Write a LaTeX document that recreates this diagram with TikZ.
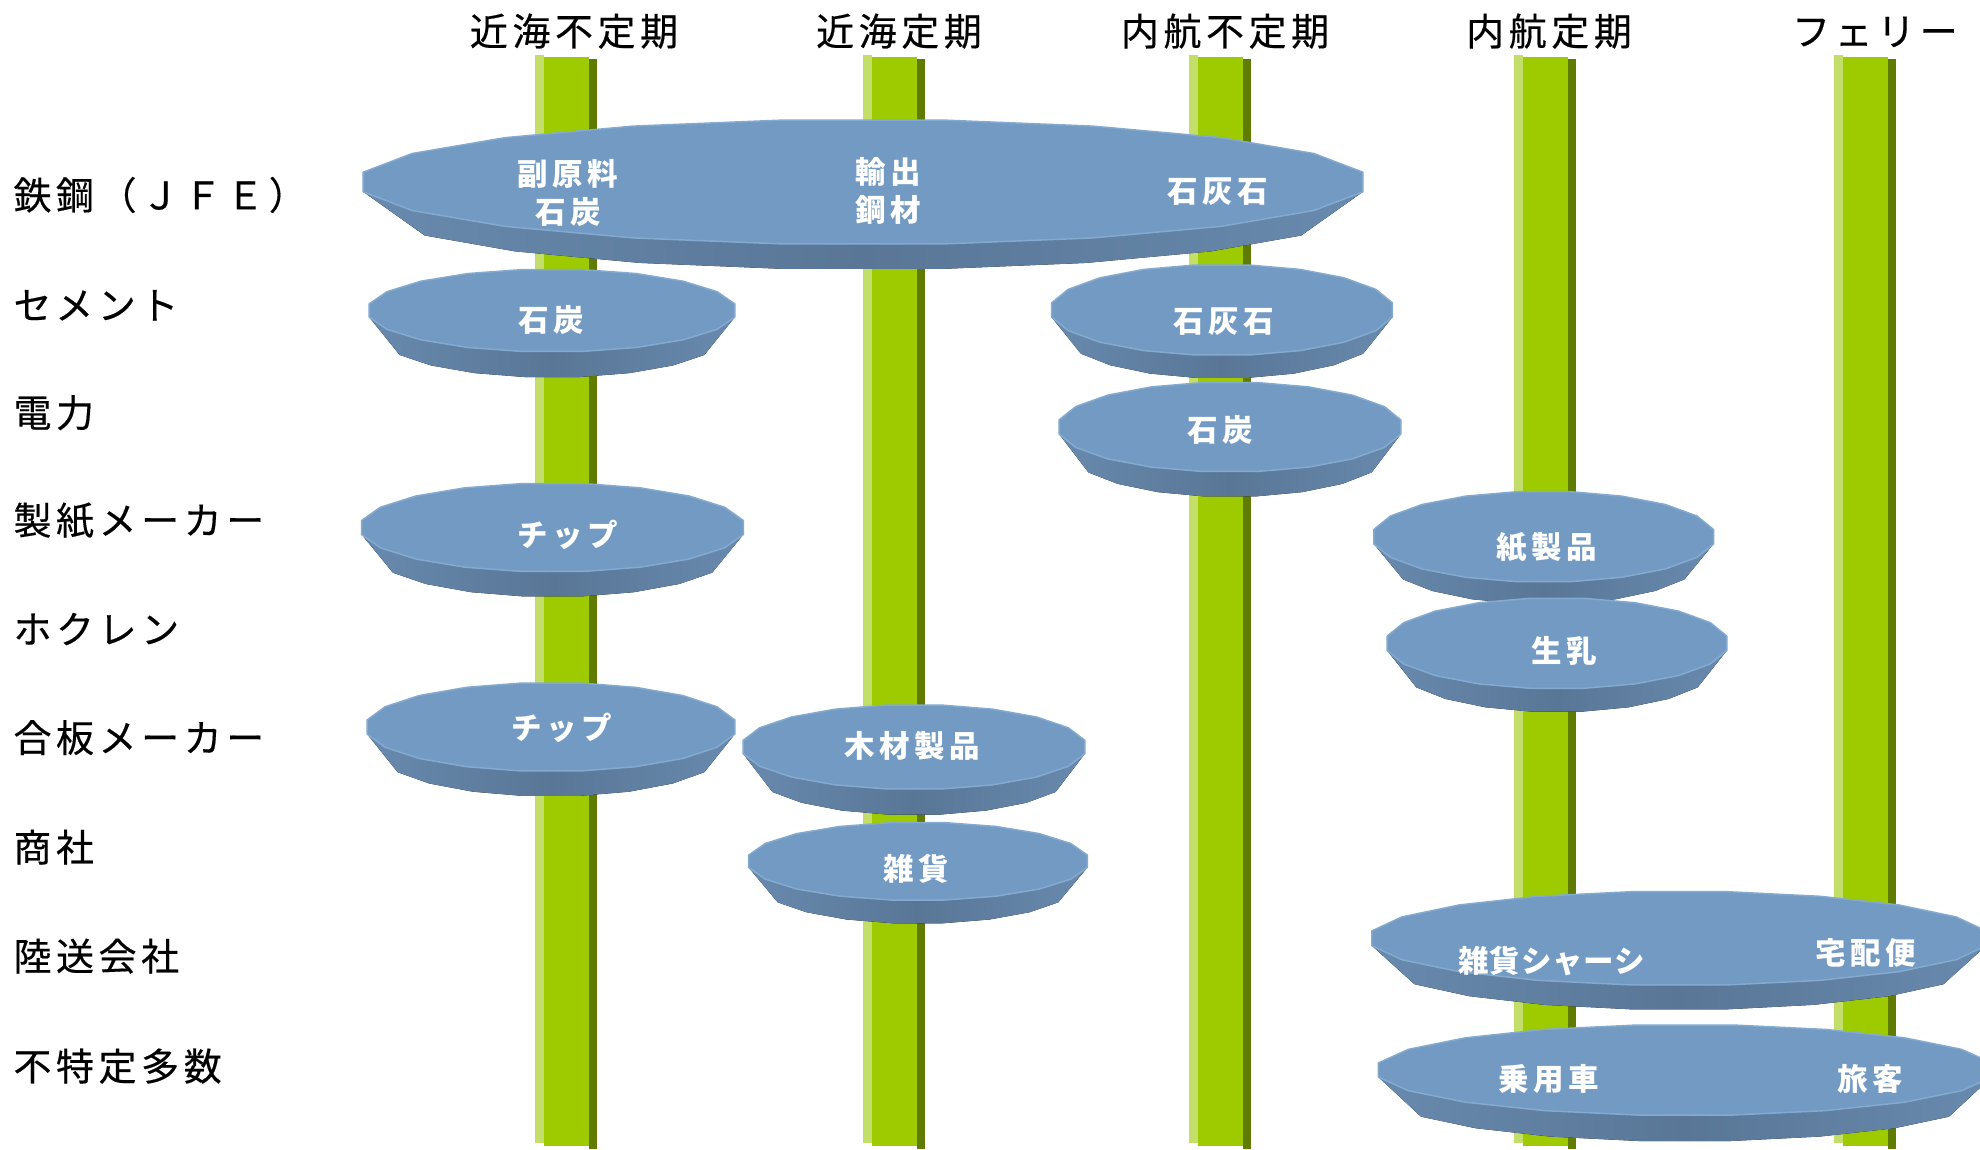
\documentclass[tikz,border=0pt]{standalone}
\usepackage{fontspec}
\newfontfamily\jphead[LetterSpace=12,FakeBold=0.4]{Noto Sans CJK JP}
\newfontfamily\jplab[LetterSpace=15]{Noto Sans CJK JP}
\newfontfamily\jplabn[LetterSpace=3]{Noto Sans CJK JP}
\definecolor{plight}{RGB}{196,222,106}
\definecolor{pmain}{RGB}{157,203,0}
\definecolor{pdark}{RGB}{96,124,0}
\definecolor{dtop}{RGB}{114,154,194}
\definecolor{dedge}{RGB}{132,170,208}
\definecolor{dsideL}{RGB}{104,138,174}
\definecolor{dsideM}{RGB}{89,118,150}
\tikzset{
  head/.style={anchor=base,inner sep=0pt,font=\jphead\fontsize{15.2pt}{18pt}\selectfont},
  rowlab/.style={anchor=base west,inner sep=0pt,font=\jphead\fontsize{15.2pt}{18pt}\selectfont},
  dlab/.style={anchor=base,inner sep=0pt,text=white,font=\jplab\bfseries\fontsize{12.2pt}{14pt}\selectfont},
  dlabn/.style={anchor=base,inner sep=0pt,text=white,font=\jplabn\bfseries\fontsize{12.2pt}{14pt}\selectfont},
  discside/.style={left color=dsideL,right color=dsideL,middle color=dsideM},
  disctop/.style={fill=dtop,draw=dedge,line width=0.6pt,line join=round},
}
\newcommand\mypillar[1]{%
  \fill[plight] (#1,55) rectangle (#1+9,1143);
  \fill[pmain] (#1+9,57) rectangle (#1+54,1146);
  \fill[pdark] (#1+54,59) rectangle (#1+62,1149);
}
% cx cy a b d  (bottom rim narrower by 14)
\newcommand\mydisc[5]{%
  \fill[discside] ({#1+1.012*#3*cos(-9)},{#2+1.012*#4*sin(-9)})
     -- ({#1+1.012*#3*cos(9)},{#2+1.012*#4*sin(9)})
     -- plot[domain=27:153,samples=8] ({#1+1.012*(#3-14)*cos(\x)},{#2+#5+1.012*#4*sin(\x)})
     -- ({#1+1.012*#3*cos(171)},{#2+1.012*#4*sin(171)})
     -- ({#1+1.012*#3*cos(189)},{#2+1.012*#4*sin(189)}) -- cycle;
  \filldraw[disctop] plot[domain=9:369,samples=21] ({#1+1.012*#3*cos(\x)},{#2+1.012*#4*sin(\x)}) -- cycle;
}
\begin{document}
\begin{tikzpicture}[x=0.4pt,y=-0.4pt]
\clip (0,0) rectangle (1980,1149);
\fill[white] (0,0) rectangle (1980,1149);
% pillars
\mypillar{535}
\mypillar{863}
\mypillar{1189}
\mypillar{1514}
\mypillar{1834}
% headings
\node[head] (h1) at (574,45.5) {近海不定期};
\node[head] (h2) at (899,45.5) {近海定期};
\node[head] (h3) at (1225,45.5) {内航不定期};
\node[head] (h4) at (1549,45.5) {内航定期};
\node[head] (h5) at (1875,45.5) {フェリー};
% row labels
\node[rowlab] (r1) at (13,209.4) {鉄鋼（ＪＦＥ）};
\node[rowlab] (r2) at (13,319.4) {セメント};
\node[rowlab] (r3) at (13,427) {電力};
\node[rowlab] (r4) at (13,534.5) {製紙メーカー};
\node[rowlab] (r5) at (13,643.5) {ホクレン};
\node[rowlab] (r6) at (13,752) {合板メーカー};
\node[rowlab] (r7) at (13,861.5) {商社};
\node[rowlab] (r8) at (13,970.5) {陸送会社};
\node[rowlab] (r9) at (13,1080.5) {不特定多数};
% discs
\mydisc{863}{182}{500}{62}{25}
\node[dlab] (a1) at (568,185.6) {副原料};
\node[dlab] (a2) at (568.5,223.6) {石炭};
\node[dlab] (a3) at (888.5,183.1) {輸出};
\node[dlab] (a4) at (888.5,221.1) {鋼材};
\node[dlab] (a5) at (1217.5,202.6) {石灰石};
\mydisc{552}{310.5}{183}{41}{25.6}
\node[dlab] (b1) at (551,331.6) {石炭};
\mydisc{1222}{310}{170.5}{45}{23}
\node[dlab] (c1) at (1224,332.1) {石灰石};
\mydisc{1230}{427}{171}{44.5}{25}
\node[dlab] (d1) at (1220,441.3) {石炭};
\mydisc{552.5}{527.5}{191}{44}{25}
\node[dlab] (e1) at (567.5,546.6) {チップ};
\mydisc{1543.7}{536.7}{170}{45}{22}
\node[dlab] (f1) at (1546.5,558.6) {紙製品};
\mydisc{1557}{643.3}{170}{45}{23.4}
\node[dlab] (g1) at (1564.3,662.9) {生乳};
\mydisc{551}{727}{184}{44}{25}
\node[dlab] (h6) at (561.7,739.1) {チップ};
\mydisc{914}{747}{171}{42}{25.7}
\node[dlab] (i1) at (912,757.9) {木材製品};
\mydisc{918}{861.3}{169.5}{38.7}{23.3}
\node[dlab] (j1) at (916.7,880.4) {雑貨};
\mydisc{1679}{938.3}{307.3}{46.6}{24.5}
\node[dlabn] (k1) at (1551.7,972.1) {雑貨シャーシ};
\node[dlab] (k2) at (1866,964.1) {宅配便};
\mydisc{1685}{1070}{306.7}{45}{26}
\node[dlab] (l1) at (1549,1090.6) {乗用車};
\node[dlab] (l2) at (1870,1090.1) {旅客};
\end{tikzpicture}
\end{document}
